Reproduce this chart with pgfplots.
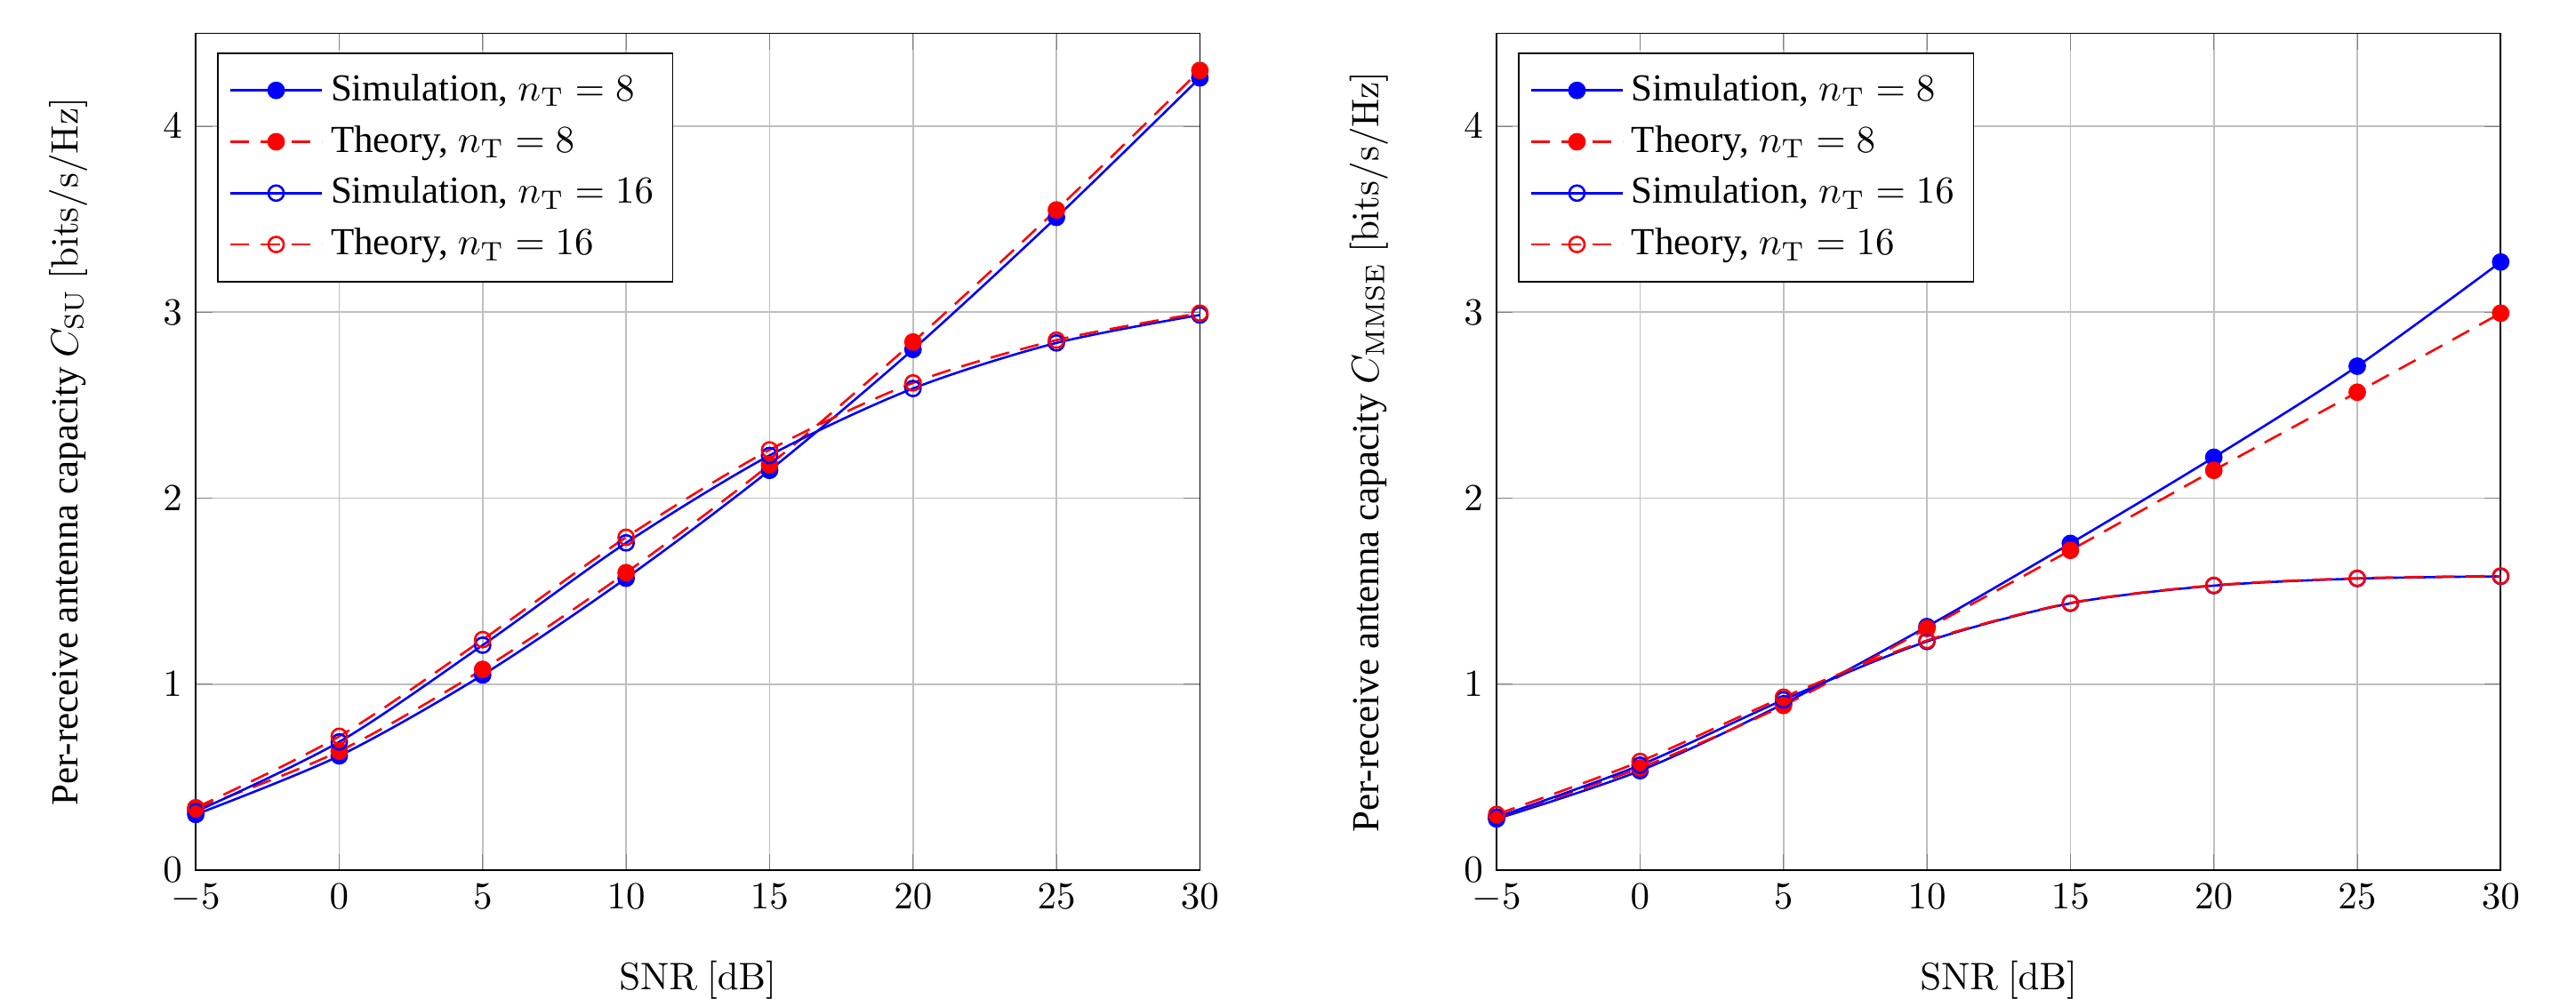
\documentclass[border=0pt]{standalone}
\usepackage[no-math]{fontspec}
\setmainfont{Liberation Serif}
\usepackage{pgfplots}
\pgfplotsset{compat=1.18}
\begin{document}
\begin{tikzpicture}
\pgfplotsset{
  myax/.style={
    scale only axis, width=262.6pt, height=219pt,
    xmin=-5, xmax=30, ymin=0, ymax=4.5,
    xtick={-5,0,5,10,15,20,25,30}, ytick={0,1,2,3,4},
    grid=major,
    xlabel={$\mathrm{SNR}$ $[\mathrm{dB}]$},
    xlabel style={yshift=-6pt},
    ylabel style={yshift=13pt},
    legend style={at={(0.021,0.977)}, anchor=north west, font=\normalsize, row sep=1pt, inner ysep=3.5pt, inner xsep=3pt},
    legend cell align=left,
    legend image code/.code={\draw[mark repeat=2,mark phase=2] plot coordinates {(0pt,0pt) (12pt,0pt) (24pt,0pt)};},
    every axis plot/.append style={semithick},
    dsh/.style={dash pattern=on 5pt off 3pt},
  },
}
\useasboundingbox (0,0) rectangle (673.7pt,261.2pt);
\begin{axis}[myax, at={(51.2pt,33.5pt)}, anchor=south west,
  ylabel={Per-receive antenna capacity $C_{\mathrm{SU}}$ $[\mathrm{bits/s/Hz}]$}]
\addplot[blue, mark=*, smooth] coordinates {(-5,0.30) (0,0.615) (5,1.05) (10,1.57) (15,2.15) (20,2.80) (25,3.51) (30,4.26)};
\addlegendentry{Simulation, $n_{\mathrm{T}}=8$}
\addplot[red, dsh, mark=*, mark options={solid}, smooth] coordinates {(-5,0.33) (0,0.64) (5,1.08) (10,1.60) (15,2.18) (20,2.84) (25,3.55) (30,4.30)};
\addlegendentry{Theory, $n_{\mathrm{T}}=8$}
\addplot[blue, mark=o, smooth] coordinates {(-5,0.315) (0,0.69) (5,1.21) (10,1.76) (15,2.23) (20,2.59) (25,2.835) (30,2.985)};
\addlegendentry{Simulation, $n_{\mathrm{T}}=16$}
\addplot[red, dsh, mark=o, mark options={solid}, smooth] coordinates {(-5,0.336) (0,0.72) (5,1.24) (10,1.79) (15,2.26) (20,2.62) (25,2.85) (30,2.995)};
\addlegendentry{Theory, $n_{\mathrm{T}}=16$}
\end{axis}
\begin{axis}[myax, at={(391.4pt,33.5pt)}, anchor=south west,
  ylabel={Per-receive antenna capacity $C_{\mathrm{MMSE}}$ $[\mathrm{bits/s/Hz}]$}]
\addplot[blue, mark=*, smooth] coordinates {(-5,0.276) (0,0.535) (5,0.895) (10,1.31) (15,1.757) (20,2.22) (25,2.71) (30,3.27)};
\addlegendentry{Simulation, $n_{\mathrm{T}}=8$}
\addplot[red, dsh, mark=*, mark options={solid}, smooth] coordinates {(-5,0.285) (0,0.55) (5,0.886) (10,1.30) (15,1.72) (20,2.15) (25,2.57) (30,2.995)};
\addlegendentry{Theory, $n_{\mathrm{T}}=8$}
\addplot[blue, mark=o, smooth] coordinates {(-5,0.285) (0,0.565) (5,0.916) (10,1.23) (15,1.435) (20,1.53) (25,1.568) (30,1.58)};
\addlegendentry{Simulation, $n_{\mathrm{T}}=16$}
\addplot[red, dsh, mark=o, mark options={solid}, smooth] coordinates {(-5,0.30) (0,0.585) (5,0.93) (10,1.235) (15,1.437) (20,1.532) (25,1.57) (30,1.582)};
\addlegendentry{Theory, $n_{\mathrm{T}}=16$}
\end{axis}
\end{tikzpicture}
\end{document}
